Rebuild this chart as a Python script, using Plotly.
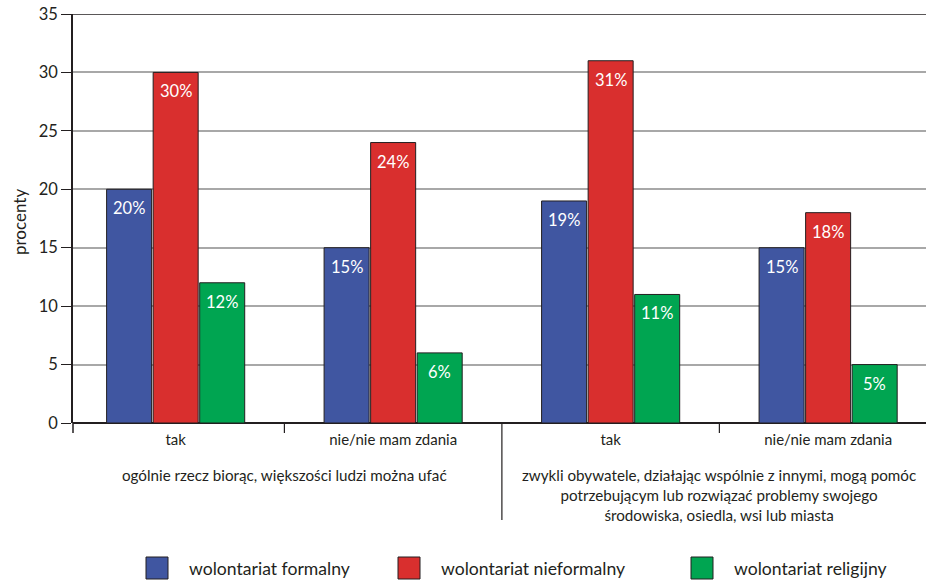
import plotly.graph_objects as go

# ---- data ----
categories = ["tak", "nie/nie mam zdania", "tak", "nie/nie mam zdania"]
group_labels = [
    "ogólnie rzecz biorąc, większości ludzi można ufać",
    "zwykli obywatele, działając wspólnie z innymi, mogą pomóc<br>potrzebującym lub rozwiązać problemy swojego<br>środowiska, osiedla, wsi lub miasta",
]
series_names = ["wolontariat formalny", "wolontariat nieformalny", "wolontariat religijny"]
formalny = [20, 15, 19, 15]
nieformalny = [30, 24, 31, 18]
religijny = [12, 6, 11, 5]
y_ticks = [0, 5, 10, 15, 20, 25, 30, 35]

series_values = [formalny, nieformalny, religijny]
colors = ["#4056A1", "#D92F2E", "#00A551"]
dark = "#231f20"
FONT = "Lato"

W, H = 926, 581
ML, MR, MT, MB = 73, 0, 14, 158
plot_w = W - ML - MR
plot_h = H - MT - MB

offsets = [-0.214, 0.0, 0.214]
bar_w = 0.207

fig = go.Figure()
annotations = []
for k, (name, vals, col) in enumerate(zip(series_names, series_values, colors)):
    xs = [i + offsets[k] for i in range(len(categories))]
    fig.add_trace(go.Bar(
        x=xs, y=vals, width=bar_w, name=name,
        marker=dict(color=col, line=dict(color=dark, width=1)),
        showlegend=False, hoverinfo="skip",
    ))
    for x, v in zip(xs, vals):
        annotations.append(dict(
            x=x, y=v, xref="x", yref="y", text=f"{v}%", showarrow=False,
            yshift=-19, font=dict(family=FONT, size=16.5, color="white"),
        ))

def py(px):  # pixel y -> paper y
    return (H - MB - px) / plot_h

def pxp(px):  # pixel x -> paper x
    return (px - ML) / plot_w

# group labels
for g, txt in enumerate(group_labels):
    annotations.append(dict(
        x=2 * g + 0.5, xref="x", y=py(464), yref="paper", yanchor="top",
        text=txt, showarrow=False, align="center",
        font=dict(family=FONT, size=15.2, color=dark),
    ))

# y-axis title
annotations.append(dict(
    x=pxp(19), xref="paper", y=py(222), yref="paper", text="procenty",
    textangle=-90, showarrow=False, xanchor="center", yanchor="middle",
    font=dict(family=FONT, size=17, color=dark),
))

shapes = []
# separators below axis
for i in range(len(categories) - 1):
    long = (i == 1)
    shapes.append(dict(type="line", xref="x", yref="paper", x0=i + 0.5, x1=i + 0.5,
                       y0=0, y1=py(520 if long else 433), line=dict(color=dark, width=1.2)))
# left axis extension
shapes.append(dict(type="line", xref="paper", yref="paper", x0=0, x1=0, y0=0, y1=py(433),
                   line=dict(color=dark, width=1.5)))
# top line
shapes.append(dict(type="line", xref="paper", yref="y", x0=0, x1=1, y0=35, y1=35,
                   line=dict(color=dark, width=1.5)))

# manual legend
leg_x = [146, 398, 691]
leg_y = 568
for name, col, lx in zip(series_names, colors, leg_x):
    shapes.append(dict(type="rect", xref="paper", yref="paper",
                       x0=pxp(lx), x1=pxp(lx + 22), y0=py(leg_y - 11), y1=py(leg_y + 11),
                       fillcolor=col, line=dict(color=dark, width=1)))
    annotations.append(dict(
        x=pxp(lx + 41), xref="paper", y=py(leg_y), yref="paper", xanchor="left",
        yanchor="middle", text=name, showarrow=False,
        font=dict(family=FONT, size=17.6, color=dark),
    ))

fig.update_layout(
    width=W, height=H,
    margin=dict(l=ML, r=MR, t=MT, b=MB, pad=0),
    plot_bgcolor="white", paper_bgcolor="white",
    barmode="overlay",
    font=dict(family=FONT, color=dark),
    xaxis=dict(range=[-0.472, 3.45], tickvals=list(range(len(categories))), ticktext=categories,
               showgrid=False, showline=False, zeroline=False,
               ticks="outside", ticklen=3, tickcolor="rgba(0,0,0,0)",
               tickfont=dict(family=FONT, size=15, color=dark)),
    yaxis=dict(range=[0, 35], tickvals=y_ticks, showgrid=True, gridcolor="#a8a8a8", gridwidth=1.5,
               showline=True, linecolor=dark, linewidth=1.5,
               zeroline=True, zerolinecolor=dark, zerolinewidth=1.5,
               ticks="outside", ticklen=10, tickcolor=dark, tickwidth=1.2,
               tickfont=dict(family=FONT, size=16.5, color=dark)),
    shapes=shapes, annotations=annotations,
)

fig.write_html("out.html")
